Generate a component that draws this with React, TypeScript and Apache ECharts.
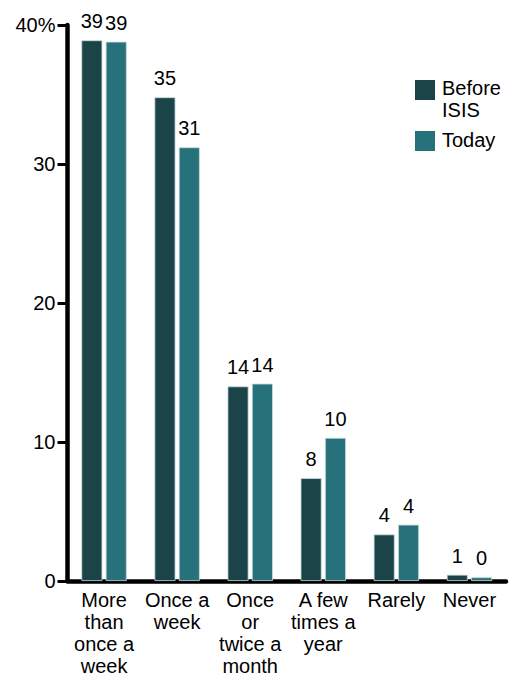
import React, { useEffect, useRef } from "react";
import * as echarts from "echarts";

const categories = [
  "More\nthan\nonce a\nweek",
  "Once a\nweek",
  "Once\nor\ntwice a\nmonth",
  "A few\ntimes a\nyear",
  "Rarely",
  "Never",
];
const beforeValues = [38.9, 34.8, 14.0, 7.4, 3.35, 0.45];
const todayValues = [38.8, 31.2, 14.2, 10.3, 4.05, 0.27];
const beforeLabels = ["39", "35", "14", "8", "4", "1"];
const todayLabels = ["39", "31", "14", "10", "4", "0"];
const yTicks = [0, 10, 20, 30, 40];

const DARK = "#1a4448";
const TEAL = "#27727a";
const FONT = "'Liberation Sans', Arial, sans-serif";
const FS = 20;

export default function App() {
  const ref = useRef<HTMLDivElement>(null);
  useEffect(() => {
    if (!ref.current) return;
    const chart = echarts.init(ref.current, null, { renderer: "svg" });
    chart.setOption({
      animation: false,
      textStyle: { fontFamily: FONT, color: "#000" },
      grid: { left: 67.5, right: 8, top: 25, bottom: 99, containLabel: false },
      xAxis: {
        type: "category",
        data: categories,
        axisLine: { lineStyle: { color: "#000", width: 4.5 } },
        axisTick: { show: false },
        axisLabel: {
          color: "#000",
          fontSize: FS,
          fontFamily: FONT,
          lineHeight: 22,
          margin: 8,
          interval: 0,
        },
      },
      yAxis: {
        type: "value",
        min: yTicks[0],
        max: yTicks[yTicks.length - 1],
        interval: 10,
        splitLine: { show: false },
        axisLine: { show: true, lineStyle: { color: "#000", width: 4.5 } },
        axisTick: { show: true, length: 10, lineStyle: { color: "#000", width: 3 } },
        axisLabel: {
          color: "#000",
          fontSize: FS,
          fontFamily: FONT,
          margin: 12,
          formatter: (v: number) => (v === 40 ? "40%" : String(v)),
        },
      },
      series: [
        {
          name: "Before ISIS",
          type: "bar",
          data: beforeValues,
          barWidth: 21,
          barGap: "16%",
          itemStyle: { color: DARK, borderColor: "#c9dcdd", borderWidth: 0.8 },
          label: {
            show: true,
            position: "top",
            distance: 9,
            color: "#000",
            fontSize: FS,
            fontFamily: FONT,
            formatter: (p: any) => beforeLabels[p.dataIndex],
          },
        },
        {
          name: "Today",
          type: "bar",
          data: todayValues,
          barWidth: 21,
          itemStyle: { color: TEAL, borderColor: "#c9dcdd", borderWidth: 0.8 },
          label: {
            show: true,
            position: "top",
            distance: 9,
            color: "#000",
            fontSize: FS,
            fontFamily: FONT,
            formatter: (p: any) => todayLabels[p.dataIndex],
          },
        },
      ],
      graphic: [
        { type: "rect", left: 415, top: 80, shape: { width: 20, height: 20 }, style: { fill: DARK } },
        {
          type: "text",
          left: 442,
          top: 77,
          style: { text: "Before\nISIS", font: `${FS}px ${FONT}`, fill: "#000", lineHeight: 22 },
        },
        { type: "rect", left: 415, top: 131, shape: { width: 20, height: 20 }, style: { fill: TEAL } },
        {
          type: "text",
          left: 442,
          top: 129,
          style: { text: "Today", font: `${FS}px ${FONT}`, fill: "#000", lineHeight: 22 },
        },
      ],
    });
    return () => chart.dispose();
  }, []);
  return (
    <div
      ref={ref}
      style={{ position: "fixed", left: 0, top: 0, width: 514, height: 680, background: "#fff" }}
    />
  );
}
